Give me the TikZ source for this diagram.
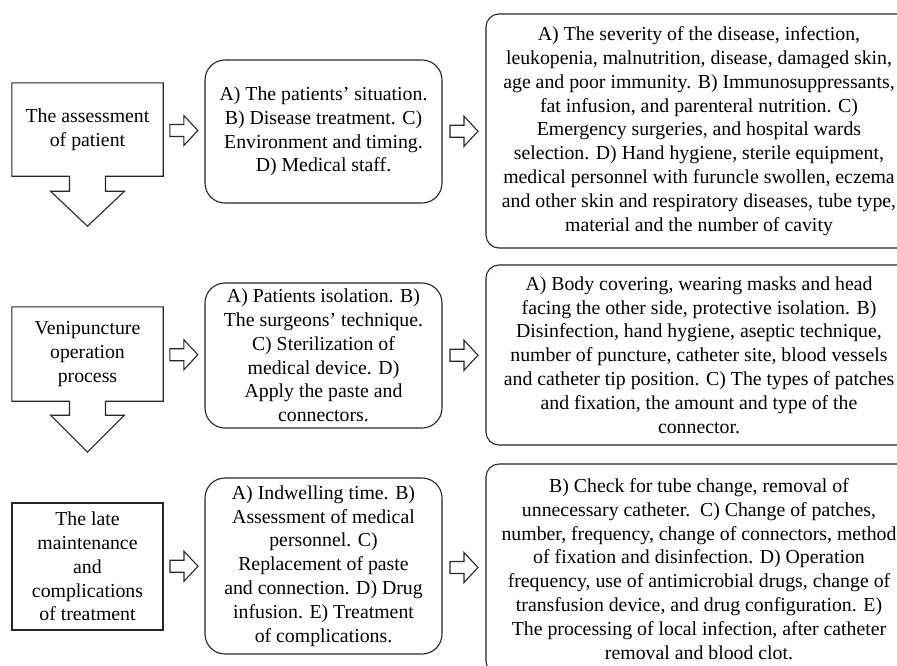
\documentclass[tikz,border=0pt]{standalone}
\usepackage{fontspec}
\setmainfont{Liberation Serif}
\usetikzlibrary{calc}
\begin{document}
\begin{tikzpicture}[x=1pt,y=-1pt,
  line/.style={draw=black!85,line width=1.1pt,line join=miter},
  txt/.style={align=center,inner sep=0pt,font=\rmfamily\fontsize{19.8}{23.8}\selectfont},
  leftbox/.style={txt,minimum width=151pt},
  midbox/.style={txt,line,rounded corners=20pt,minimum width=237pt},
  rightbox/.style={txt,line,rounded corners=13pt,minimum width=426pt},
  rarrow/.pic={\draw[line] (-14,-6) -- (0,-6) -- (0,-15) -- (14,0) -- (0,15) -- (0,6) -- (-14,6) -- cycle;}]
\useasboundingbox (0,0) rectangle (897,665);
\clip (0,0) rectangle (897,665);
% left boxes
\node[leftbox,minimum height=93pt] (L1) at (87.5,129.5) {The assessment\\of patient};
\node[leftbox,minimum height=94pt] (L2) at (87.5,354) {Venipuncture\\operation\\process};
\node[leftbox,line,minimum height=127pt] (L3) at (87.5,566.5) {The late\\maintenance\\and\\complications\\of treatment};
\foreach \n/\s/\h in {L1/15/35,L2/14/37}{
  \draw[line] (\n.south west) -- (\n.north west) -- (\n.north east) -- (\n.south east)
    -- ([xshift=18pt]\n.south) -- ++(0,\s) -- ++(19,0) -- ++(-37,\h) -- ++(-37,-\h)
    -- ++(19,0) -- ++(0,-\s) -- cycle;
}
% middle boxes
\node[midbox,minimum height=143pt] (M1) at (323.5,131.5) {A) The patients' situation.\\B) Disease treatment. C)\\Environment and timing.\\D) Medical staff.};
\node[midbox,minimum height=145pt] (M2) at (323.5,355.5) {A) Patients isolation. B)\\The surgeons' technique.\\C) Sterilization of\\medical device. D)\\Apply the paste and\\connectors.};
\node[midbox,minimum height=176pt] (M3) at (323.5,566) {A) Indwelling time. B)\\Assessment of medical\\personnel. C)\\Replacement of paste\\and connection. D) Drug\\infusion. E) Treatment\\of complications.};
% right boxes
\node[rightbox,minimum height=234pt] (R1) at (699,131) {A) The severity of the disease, infection,\\leukopenia, malnutrition, disease, damaged skin,\\age and poor immunity. B) Immunosuppressants,\\fat infusion, and parenteral nutrition. C)\\Emergency surgeries, and hospital wards\\selection. D) Hand hygiene, sterile equipment,\\medical personnel with furuncle swollen, eczema\\and other skin and respiratory diseases, tube type,\\material and the number of cavity};
\node[rightbox,minimum height=180pt] (R2) at (699,355) {A) Body covering, wearing masks and head\\facing the other side, protective isolation. B)\\Disinfection, hand hygiene, aseptic technique,\\number of puncture, catheter site, blood vessels\\and catheter tip position. C) The types of patches\\and fixation, the amount and type of the\\connector.};
\node[rightbox,minimum height=210pt] (R3) at (699,569) {B) Check for tube change, removal of\\unnecessary catheter.\ \ C) Change of patches,\\number, frequency, change of connectors, method\\of fixation and disinfection. D) Operation\\frequency, use of antimicrobial drugs, change of\\transfusion device, and drug configuration. E)\\The processing of local infection, after catheter\\removal and blood clot.};
% small block arrows
\foreach \a/\b in {L1/M1,L2/M2,L3/M3,M1/R1,M2/R2,M3/R3}{
  \pic at ($(\a.east)!0.5!(\b.west)$) {rarrow};
}
\end{tikzpicture}
\end{document}
